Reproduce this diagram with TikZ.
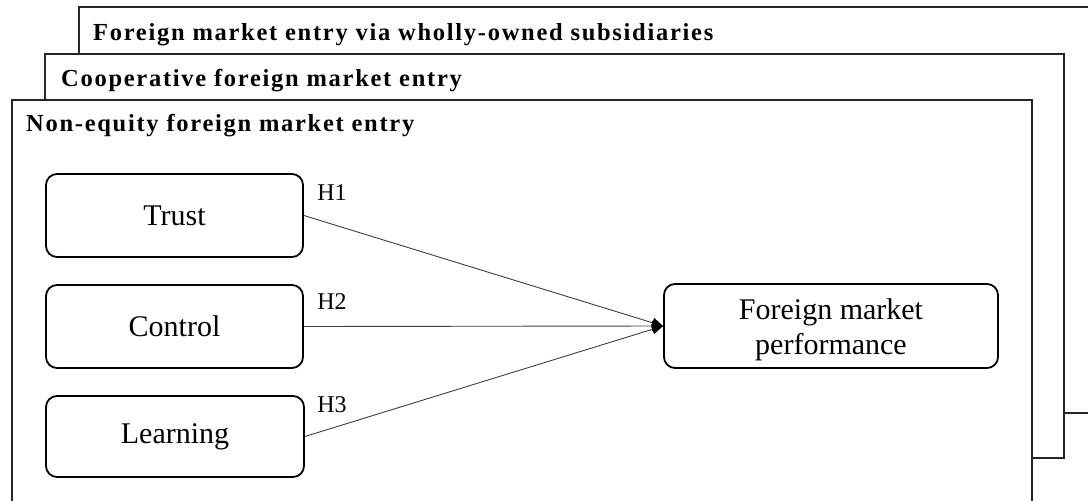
\documentclass[tikz,border=0pt]{standalone}
\usepackage{fontspec}
\setmainfont{Liberation Serif}
\newfontfamily\titlefont[LetterSpace=7]{Liberation Serif}
\usetikzlibrary{arrows.meta}
\begin{document}
\begin{tikzpicture}[x=1pt,y=-1pt,
  frame/.style={draw=black!85,line width=2pt,fill=white},
  ftitle/.style={anchor=base west,inner sep=0pt,font=\titlefont\fontsize{24.5}{27}\selectfont\bfseries},
  var/.style={draw=black,line width=1.8pt,rounded corners=11pt,fill=white,inner sep=0pt,
    font=\fontsize{30}{35}\selectfont,align=center},
  hlab/.style={anchor=center,inner sep=0pt,font=\fontsize{24}{28}\selectfont},
  link/.style={draw=black!75,line width=0.9pt,-{Triangle[length=11pt,width=10pt,color=black,fill=black]}}]
\useasboundingbox (0,0) rectangle (1088,501);
\clip (0,0) rectangle (1088,501);
% frames (back to front)
\draw[frame] (79,7) rectangle (1110,413);
\node[ftitle] (t1) at (93,40) {Foreign market entry via wholly-owned subsidiaries};
\draw[frame] (45,54) rectangle (1064,458);
\node[ftitle] (t2) at (61,86) {Cooperative foreign market entry};
\draw[frame] (12,100) rectangle (1032,530);
\node[ftitle] (t3) at (26,131) {Non-equity foreign market entry};
% variables
\node[var,minimum width=257pt,minimum height=83pt] (trust) at (174.5,215.5) {Trust};
\node[var,minimum width=257pt,minimum height=83pt] (control) at (174.5,326.5) {Control};
\node[var,minimum width=258pt,minimum height=81pt] (learn) at (175,436.5) {Learning};
\node[var,minimum width=334pt,minimum height=84pt] (fmp) at (831,326)
  {\raisebox{-4pt}[\height][\depth]{\begin{tabular}{@{}c@{}}Foreign market\\performance\end{tabular}}};
% links
\draw[link] (trust.east) -- (fmp.west);
\draw[link] (control.east) -- (fmp.west);
\draw[link] (learn.east) -- (fmp.west);
\node[hlab] (h1) at (332,193) {H1};
\node[hlab] (h2) at (332,302) {H2};
\node[hlab] (h3) at (332,405) {H3};
\end{tikzpicture}
\end{document}
